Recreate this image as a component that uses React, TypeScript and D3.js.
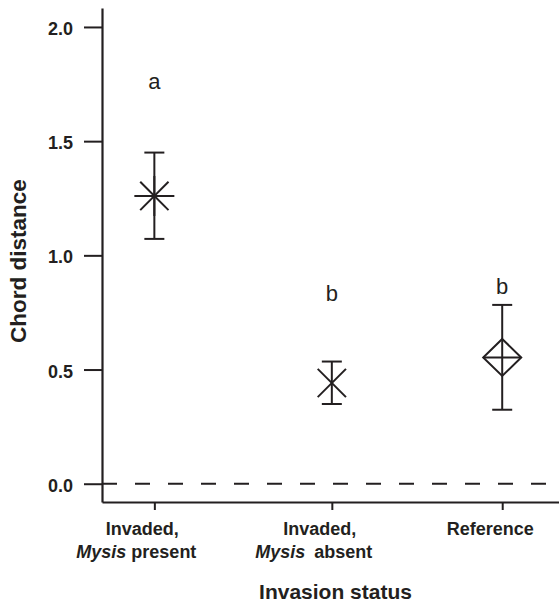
import { useEffect, useRef } from "react";
import * as d3 from "d3";

// data
const categories = ["Invaded, Mysis present", "Invaded, Mysis absent", "Reference"];
const labelLine1 = ["Invaded,", "Invaded,", "Reference"];
const labelItalic = ["Mysis", "Mysis", ""];
const labelRest = ["present", "absent", ""];
const xPositions = [1, 2, 2.96];
const means = [1.26, 0.441, 0.553];
const upper = [1.45, 0.535, 0.783];
const lower = [1.072, 0.349, 0.324];
const markerTypes = ["asterisk", "cross", "diamond"];
const sigLetters = ["a", "b", "b"];
const sigHeights = [1.73, 0.8, 0.83];
const yTicks = [0, 0.5, 1.0, 1.5, 2.0];

const W = 559;
const H = 605;
const INK = "#231f20";
const FONT = "'Liberation Sans', Arial, Helvetica, sans-serif";

const App = () => {
  const ref = useRef<SVGSVGElement | null>(null);

  useEffect(() => {
    if (!ref.current) return;
    const svg = d3.select(ref.current);
    svg.selectAll("*").remove();

    const x = d3.scaleLinear().domain([0.705, 3.28]).range([102, W]);
    const y = d3.scaleLinear().domain([-0.08, 2.083]).range([502, 8]);

    // y axis
    const yAxis = svg
      .append("g")
      .attr("transform", "translate(102,0)")
      .call(
        d3
          .axisLeft(y)
          .tickValues(yTicks)
          .tickSize(18)
          .tickSizeOuter(0)
          .tickPadding(11)
          .tickFormat(d3.format(".1f"))
      );
    yAxis.select(".domain").attr("stroke", INK).attr("stroke-width", 2.2);
    yAxis.selectAll(".tick line").attr("stroke", INK).attr("stroke-width", 2);
    yAxis
      .selectAll(".tick text")
      .attr("fill", INK)
      .attr("font-family", FONT)
      .attr("font-weight", "bold")
      .attr("font-size", 18)
      .attr("dy", "0.42em");

    // x axis
    const xAxis = svg
      .append("g")
      .attr("transform", "translate(0,502)")
      .call(d3.axisBottom(x).tickValues(xPositions).tickSize(8).tickSizeOuter(0).tickFormat(() => ""));
    xAxis.select(".domain").attr("stroke", INK).attr("stroke-width", 2.2);
    xAxis.selectAll(".tick line").attr("stroke", INK).attr("stroke-width", 2);

    // reference line at 0
    svg
      .append("line")
      .attr("x1", 102)
      .attr("x2", W)
      .attr("y1", y(0))
      .attr("y2", y(0))
      .attr("stroke", INK)
      .attr("stroke-width", 2)
      .attr("stroke-dasharray", "15 18");

    // category labels
    const labels = svg
      .append("g")
      .attr("font-family", FONT)
      .attr("font-weight", "bold")
      .attr("font-size", 18)
      .attr("fill", INK)
      .attr("text-anchor", "middle");

    categories.forEach((_, i) => {
      const cx = x(xPositions[i]);
      labels
        .append("text")
        .attr("x", cx - 12)
        .attr("y", 535)
        .text(labelLine1[i]);
      if (labelItalic[i]) {
        const t = labels.append("text").attr("x", cx - 18).attr("y", 558);
        t.append("tspan").attr("font-style", "italic").text(labelItalic[i]);
        t.append("tspan")
          .attr("dx", i === 1 ? 9 : 5)
          .text(labelRest[i]);
      }
    });

    // axis titles
    svg
      .append("text")
      .attr("x", 335.5)
      .attr("y", 599)
      .attr("text-anchor", "middle")
      .attr("font-family", FONT)
      .attr("font-weight", "bold")
      .attr("font-size", 21)
      .attr("fill", INK)
      .text("Invasion status");

    svg
      .append("text")
      .attr("transform", "translate(26,261) rotate(-90)")
      .attr("text-anchor", "middle")
      .attr("font-family", FONT)
      .attr("font-weight", "bold")
      .attr("font-size", 22.5)
      .attr("fill", INK)
      .text("Chord distance");

    // error bars + markers
    const capHalf = 10;
    const marks = svg.append("g").attr("stroke", INK).attr("stroke-width", 2).attr("fill", "none");

    means.forEach((m, i) => {
      const cx = x(xPositions[i]);
      const cy = y(m);
      const g = marks.append("g");
      g.append("line").attr("x1", cx).attr("x2", cx).attr("y1", y(upper[i])).attr("y2", y(lower[i]));
      [upper[i], lower[i]].forEach(v => {
        g.append("line")
          .attr("x1", cx - capHalf)
          .attr("x2", cx + capHalf)
          .attr("y1", y(v))
          .attr("y2", y(v));
      });

      const type = markerTypes[i];
      if (type === "asterisk" || type === "cross") {
        const r = 20;
        const angles = type === "asterisk" ? [0, 45, 90, 135] : [45, 135];
        angles.forEach(a => {
          const rad = (a * Math.PI) / 180;
          const dx = Math.cos(rad) * r;
          const dy = Math.sin(rad) * r;
          g.append("line")
            .attr("x1", cx - dx)
            .attr("x2", cx + dx)
            .attr("y1", cy - dy)
            .attr("y2", cy + dy);
        });
      } else {
        const hw = 19;
        const hh = 18.5;
        g.append("path").attr(
          "d",
          `M${cx},${cy - hh}L${cx + hw},${cy}L${cx},${cy + hh}L${cx - hw},${cy}Z`
        );
        g.append("line").attr("x1", cx - hw).attr("x2", cx + hw).attr("y1", cy).attr("y2", cy);
      }
    });

    // significance letters
    svg
      .append("g")
      .selectAll("text")
      .data(sigLetters)
      .enter()
      .append("text")
      .attr("x", (_, i) => x(xPositions[i]))
      .attr("y", (_, i) => y(sigHeights[i]))
      .attr("text-anchor", "middle")
      .attr("font-family", FONT)
      .attr("font-size", 22)
      .attr("fill", INK)
      .text(d => d);
  }, []);

  return (
    <svg
      ref={ref}
      width={W}
      height={H}
      viewBox={`0 0 ${W} ${H}`}
      style={{ position: "absolute", left: 0, top: 0, background: "#fff" }}
    />
  );
};

export default App;
